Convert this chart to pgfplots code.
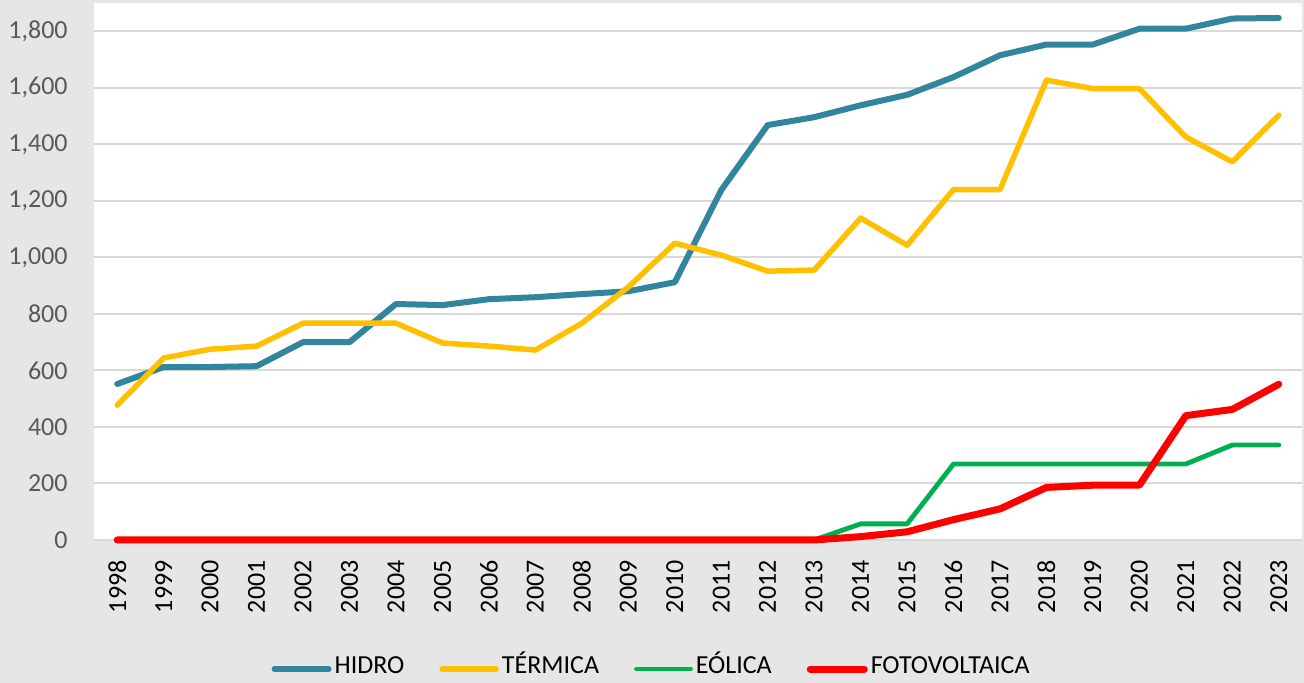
\documentclass[border=0pt]{standalone}
\usepackage{fontspec}
\setmainfont{Carlito}
\usepackage{pgfplots}
\pgfplotsset{compat=1.18}
\usepackage{pgfplotstable}

\definecolor{bgc}{HTML}{E7E6E6}
\definecolor{gridc}{HTML}{D9D9D9}
\definecolor{tickc}{HTML}{595959}
\definecolor{hidro}{HTML}{31859C}
\definecolor{termica}{HTML}{FFC000}
\definecolor{eolica}{HTML}{00B050}
\definecolor{foto}{HTML}{FF0000}

\pgfplotstableread{
year hidro termica eolica foto
1998 552 477 0 0
1999 612 644 0 0
2000 612 675 0 0
2001 615 686 0 0
2002 700 767 0 0
2003 700 767 0 0
2004 835 767 0 0
2005 831 697 0 0
2006 852 686 0 0
2007 859 672 0 0
2008 870 767 0 0
2009 880 895 0 0
2010 912 1050 0 0
2011 1238 1008 0 0
2012 1468 951 0 0
2013 1496 955 0 0
2014 1538 1139 57 12
2015 1575 1043 57 29
2016 1638 1240 269 72
2017 1715 1240 269 110
2018 1753 1627 269 186
2019 1753 1597 269 194
2020 1809 1597 269 194
2021 1809 1426 269 440
2022 1845 1338 336 462
2023 1847 1503 336 551
}\datatable

\newcommand{\lblfont}{\fontsize{13}{15.6}\selectfont}

\begin{document}
\begin{tikzpicture}
\fill[bgc] (-47pt,-71.5pt) rectangle (605pt,270pt);
\begin{axis}[
  at={(0pt,0pt)}, anchor=south west,
  scale only axis, width=604pt, height=268.5pt,
  xmin=1997.5, xmax=2023.5, ymin=0, ymax=1900,
  xtick={1998,...,2023}, ytick={0,200,...,1800},
  axis background/.style={fill=white},
  axis line style={draw=none},
  major tick length=0pt,
  ymajorgrids, grid style={draw=gridc, line width=1pt},
  clip=false,
  x tick label style={/pgf/number format/1000 sep={}, /pgf/number format/assume math mode=true},
  y tick label style={/pgf/number format/1000 sep={,}, /pgf/number format/assume math mode=true},
  xticklabel style={rotate=90, anchor=east, font=\lblfont, inner sep=0pt, text=black},
  xticklabel shift=10pt,
  yticklabel style={font=\lblfont, inner sep=0pt, text=tickc},
  yticklabel shift=13pt,
  legend columns=4,
  legend cell align=left,
  legend image code/.code={\draw[#1] (0pt,0pt) -- (27pt,0pt);},
  legend style={draw=none, fill=none, font=\lblfont, text=black,
    at={(rel axis cs:0.462,-0.2403)}, anchor=center,
    nodes={inner sep=1.5pt, text height=0.68em, text depth=0.2em},
    /tikz/every even column/.append style={column sep=16pt}},
  every axis plot/.append style={line cap=round, line join=round},
]
\addplot[hidro, line width=3pt] table[x=year, y=hidro] {\datatable};
\addplot[termica, line width=2.75pt] table[x=year, y=termica] {\datatable};
\addplot[eolica, line width=2.4pt] table[x=year, y=eolica] {\datatable};
\addplot[foto, line width=3.5pt] table[x=year, y=foto] {\datatable};
\legend{HIDRO, TÉRMICA, EÓLICA, FOTOVOLTAICA}
\end{axis}
\pgfresetboundingbox
\path[use as bounding box] (-47pt,-71.5pt) rectangle (605pt,270pt);
\end{tikzpicture}
\end{document}
